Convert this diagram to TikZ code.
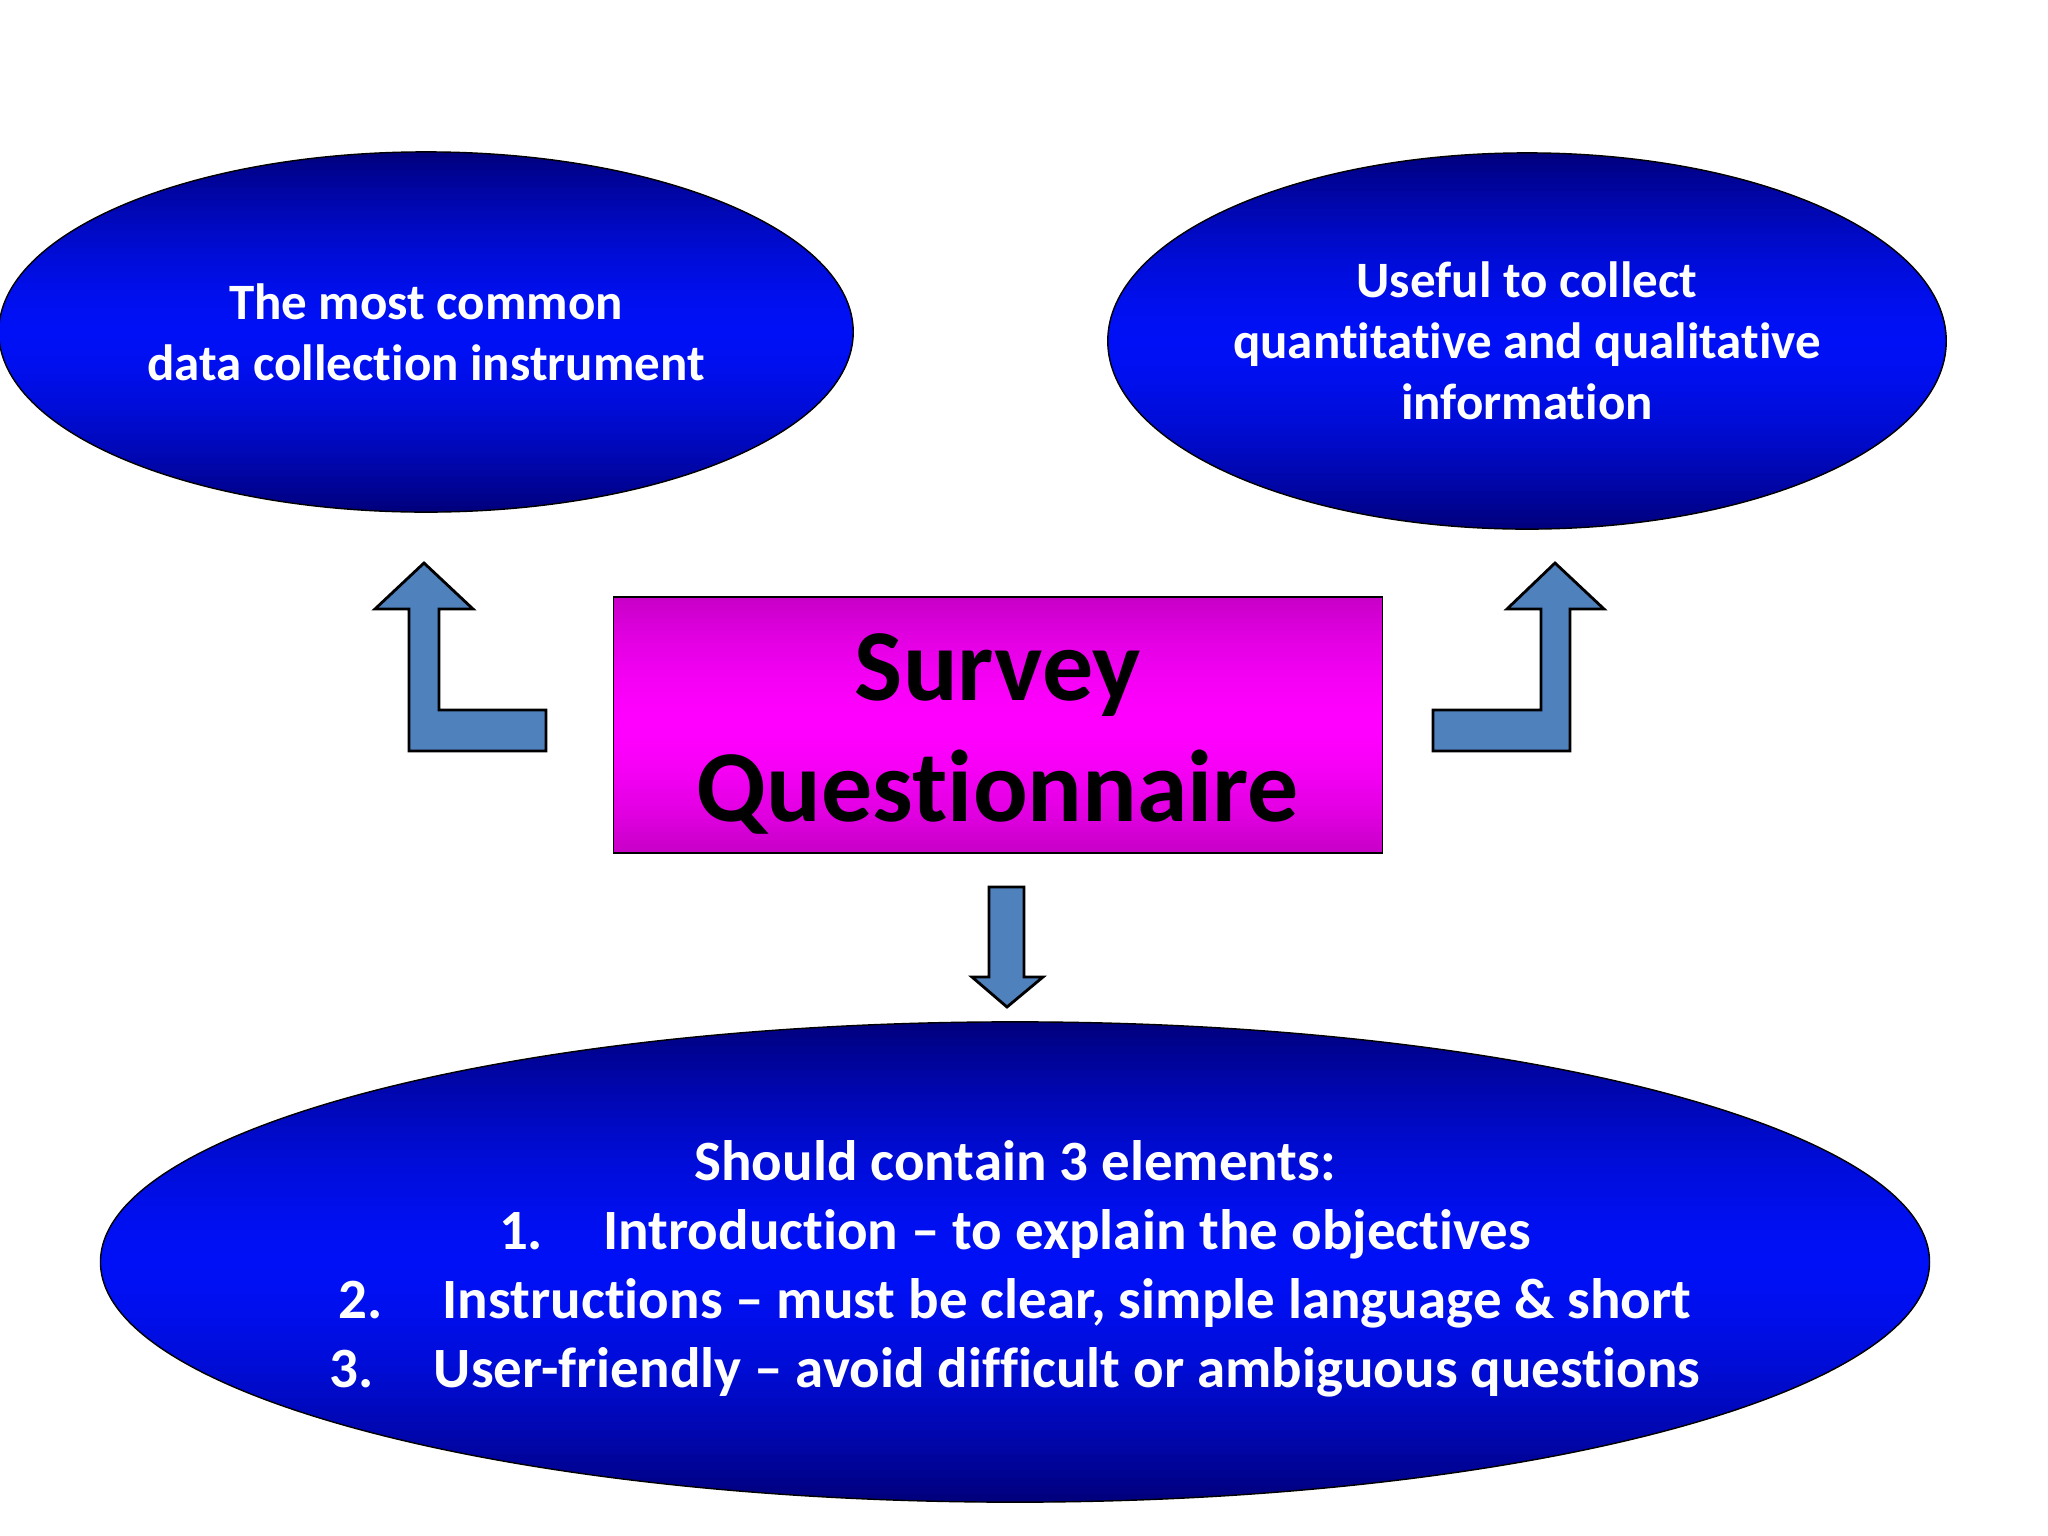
\documentclass[tikz,border=0pt]{standalone}
\usepackage{fontspec}
\setmainfont{Carlito}[Ligatures=NoCommon]
\usetikzlibrary{shapes.geometric,calc}

\definecolor{navy}{HTML}{00007E}
\definecolor{brightblue}{HTML}{0010F6}
\definecolor{deepmag}{HTML}{C800C8}
\definecolor{brightmag}{HTML}{FF00FF}
\definecolor{arrowblue}{HTML}{4F81BD}

\begin{document}
\begin{tikzpicture}[x=0.01cm, y=-0.01cm,
            every node/.style={align=center, inner sep=0pt},
            vgrad/.style 2 args={path picture={
                \foreach \k in {0,...,59}{
                    \pgfmathsetmacro\mixval{100*(abs(\k-29.5)/29.5)^1.6}
                    \fill[#1!\mixval!#2]
                        ($(path picture bounding box.north west)!{\k/60}!(path picture bounding box.south west)$)
                        rectangle
                        ($(path picture bounding box.north east)!{(\k+1.4)/60}!(path picture bounding box.south east)$);
                }}},
            bubble/.style={draw, ellipse, thin, vgrad={navy}{brightblue}, text=white,
                font=\bfseries\fontsize{14.5}{17.3}\selectfont},
            bubbletext/.style={text=white, font=\bfseries\fontsize{16.2}{19.6}\selectfont},
            titlebox/.style={draw, rectangle, vgrad={deepmag}{brightmag}},
            titletext/.style={font=\bfseries\fontsize{29}{34.4}\selectfont},
            blockarrow/.style={draw, fill=arrowblue, line width=0.8pt, line join=miter}]
        \useasboundingbox (0,0) rectangle (2048,1536);
        \node[bubble, minimum width=8.54cm, minimum height=3.6cm] (common) at (426,332)
            {The most common\\data collection instrument};
        \node[bubble, minimum width=8.38cm, minimum height=3.76cm] (useful) at (1527,341)
            {Useful to collect\\quantitative and qualitative\\information};
        \node[titlebox, minimum width=7.68cm, minimum height=2.56cm] (survey) at (998,725) {};
        \node[titletext] (surveytext) at ([yshift=-0.09cm]survey.center) {Survey\\Questionnaire};
        \node[bubble, minimum width=18.28cm, minimum height=4.8cm] (elements) at (1015,1262) {};
        \node[bubbletext] (elementstext) at ([yshift=-0.07cm]elements.center)
            {Should contain 3 elements:\\
             1.\hspace{0.6cm}Introduction -- to explain the objectives\\
             2.\hspace{0.6cm}Instructions -- must be clear, simple language \& short\\
             3.\hspace{0.6cm}User-friendly -- avoid difficult or ambiguous questions};
        \draw[blockarrow] (546,710) -- (439,710) -- (439,609) -- (473,609) -- (424,563)
            -- (375,609) -- (409,609) -- (409,751) -- (546,751) -- cycle;
        \draw[blockarrow] (1433,710) -- (1541,710) -- (1541,609) -- (1507,609) -- (1555,563)
            -- (1604,609) -- (1570,609) -- (1570,751) -- (1433,751) -- cycle;
        \draw[blockarrow] (989,887) -- (1024,887) -- (1024,977) -- (1043,977) -- (1007,1007)
            -- (972,977) -- (989,977) -- cycle;
\end{tikzpicture}
\end{document}
